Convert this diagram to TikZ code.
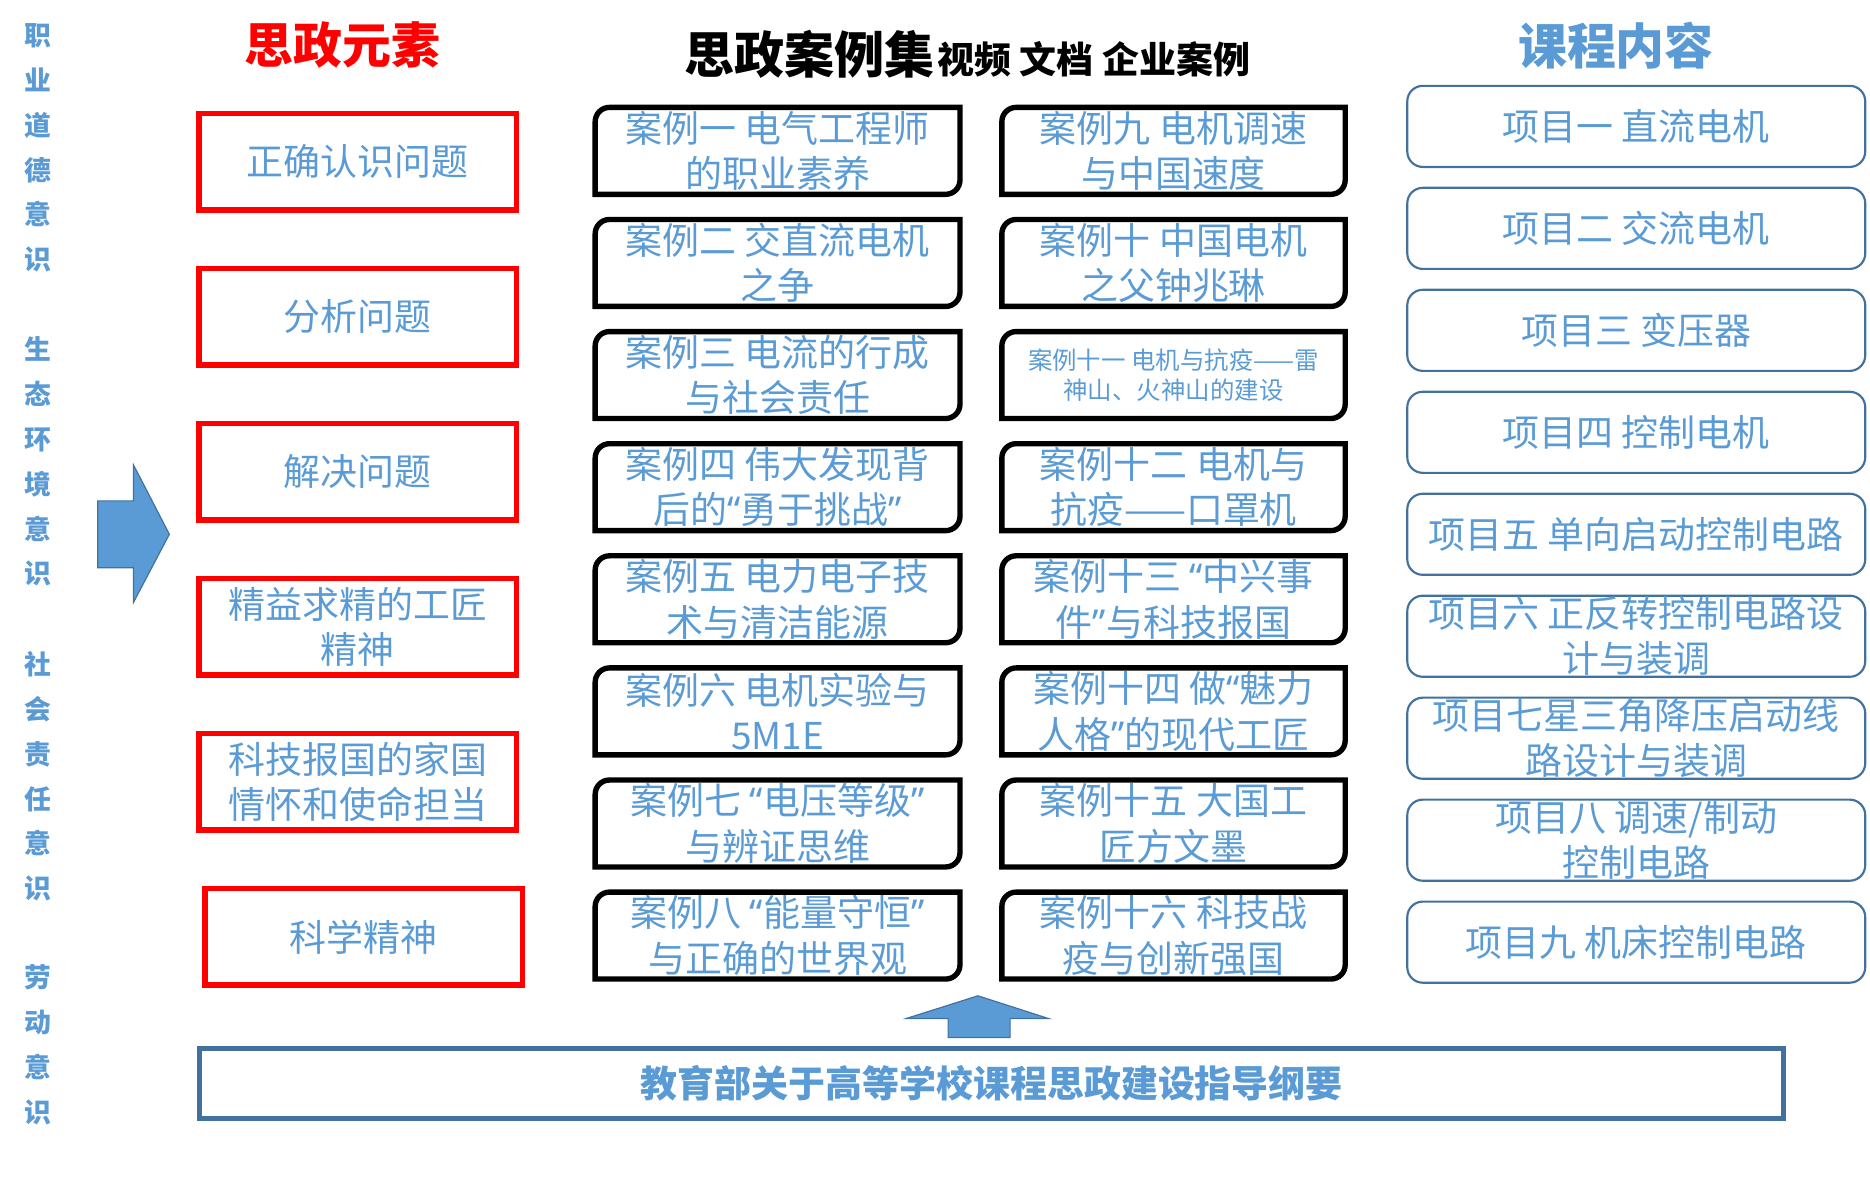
\documentclass[tikz,border=0pt]{standalone}
\usepackage{fontspec}
\newfontfamily\cjk{Noto Sans CJK SC}
\newfontfamily\lat{Noto Sans}
\newcommand\qo{{\lat “}}% narrow quotes
\newcommand\qc{{\lat ”}}
\definecolor{sblue}{RGB}{91,155,213}
\definecolor{sbord}{RGB}{65,113,156}

\begin{document}
\begin{tikzpicture}[x=1pt,y=1pt,
  every node/.style={align=center,inner sep=0pt},
  txt/.style={font=\cjk\fontsize{31}{38}\selectfont,text=sblue},
  small/.style={font=\cjk\fontsize{20.5}{25}\selectfont,text=sblue},
  head/.style={font=\cjk\bfseries\fontsize{41}{41}\selectfont},
  side/.style={font=\cjk\bfseries\fontsize{22.5}{37.6}\selectfont,text=sblue},
  elem/.style={txt,draw=red,line width=4.5pt,minimum width=266,minimum height=81},%red element boxes
  casebox/.style={minimum width=#1,minimum height=72.5},
  caseline/.style={line width=4.5pt,line join=miter},
  course/.style={txt,draw=sbord,line width=1.8pt,rounded corners=13,minimum width=384,minimum height=68},
  bigarrow/.style={fill=sblue,draw=sbord,line width=1pt}
  ]
\useasboundingbox (0,0) rectangle (1568,1000);

% titles
\node[head,text=red]   (t1) at (287,962) {思政元素};
\node[font=\cjk\bfseries] (t2) at (811,954.5) {{\fontsize{42}{42}\selectfont 思政案例集} {\fontsize{31}{31}\selectfont 视频 文档 企业案例}};
\node[head,text=sblue] (t3) at (1355,962) {课程内容};

% left column
\node[side] (s1) at (32,876) {职\\业\\道\\德\\意\\识};
\node[side] (s2) at (32,613) {生\\态\\环\\境\\意\\识};
\node[side] (s3) at (32,349) {社\\会\\责\\任\\意\\识};
\node[side] (s4) at (32,124) {劳\\动\\意\\识};

\draw[bigarrow] (82,580) -- (112,580) -- (112,610) -- (142,552) -- (112,495) -- (112,524) -- (82,524) -- cycle;

% elements
\foreach \t [count=\i] in {{正确认识问题},{分析问题},{解决问题},{精益求精的工匠\\精神},{科技报国的家国\\情怀和使命担当}}
  \node[elem] (e\i) at (300,{864.5-130*(\i-1)}) {\t};
\node[elem] (e6) at (305,214.5) {科学精神};

% cases, round diagonal corners
\foreach \t [count=\i] in {{案例一 电气工程师\\的职业素养},{案例二 交直流电机\\之争},{案例三 电流的行成\\与社会责任},
    {案例四 伟大发现背\\后的\qo 勇于挑战\qc},{案例五 电力电子技\\术与清洁能源},{案例六 电机实验与\\5M1E},
    {案例七 \qo 电压等级\qc\\与辨证思维},{案例八 \qo 能量守恒\qc\\与正确的世界观}}{
  \node[txt,casebox=305.5] (c\i) at (652,{873.5-94*(\i-1)}) {\t};
  \draw[caseline] (c\i.south west) -- ([yshift=-12]c\i.north west) arc[start angle=180,end angle=90,radius=12]
    -- (c\i.north east) -- ([yshift=12]c\i.south east) arc[start angle=0,end angle=-90,radius=12] -- cycle;
}
\foreach \st/\t [count=\i from 9] in {txt/{案例九 电机调速\\与中国速度},txt/{案例十 中国电机\\之父钟兆琳},
    small/{案例十一 电机与抗疫——雷\\神山、火神山的建设},txt/{案例十二 电机与\\抗疫——口罩机},
    txt/{案例十三 \qo 中兴事\\件\qc 与科技报国},txt/{案例十四 做\qo 魅力\\人格\qc 的现代工匠},
    txt/{案例十五 大国工\\匠方文墨},txt/{案例十六 科技战\\疫与创新强国}}{
  \node[\st,casebox=287.5] (c\i) at (984,{873.5-94*(\i-9)}) {\t};
  \draw[caseline] (c\i.south west) -- ([yshift=-12]c\i.north west) arc[start angle=180,end angle=90,radius=12]
    -- (c\i.north east) -- ([yshift=12]c\i.south east) arc[start angle=0,end angle=-90,radius=12] -- cycle;
}

% course contents
\foreach \t [count=\i] in {{项目一 直流电机},{项目二 交流电机},{项目三 变压器},{项目四 控制电机},
    {项目五 单向启动控制电路},{项目六 正反转控制电路设\\计与装调},{项目七星三角降压启动线\\路设计与装调},
    {项目八 调速/制动\\控制电路},{项目九 机床控制电路}}
  \node[course] (k\i) at (1372,{894-85.5*(\i-1)}) {\t};

% guideline
\node[txt,font=\cjk\bfseries\fontsize{31}{38}\selectfont,draw=sbord,line width=4.5pt,
  minimum width=1328,minimum height=58.5] (guide) at (831.5,91.5) {教育部关于高等学校课程思政建设指导纲要};
\draw[bigarrow] (795,130) -- (795,146) -- (760,146) -- (820,165) -- (879,146) -- (847,146) -- (847,130) -- cycle;
\end{tikzpicture}
\end{document}
